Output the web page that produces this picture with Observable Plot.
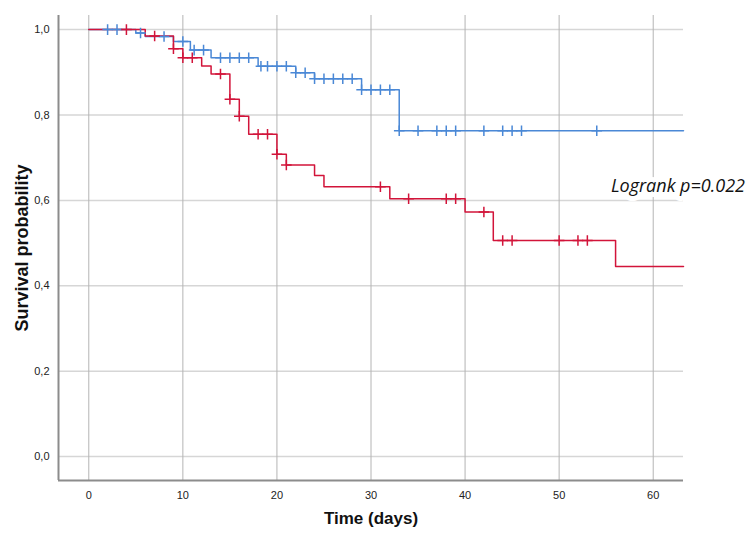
<!DOCTYPE html>
<html>
<head>
<meta charset="utf-8">
<script src="https://cdn.jsdelivr.net/npm/d3@7"></script>
<script src="https://cdn.jsdelivr.net/npm/@observablehq/plot@0.6"></script>
<style>
  html, body { margin: 0; padding: 0; background: #fff; }
  #chart { width: 749px; height: 539px; }
  svg { overflow: visible; }
</style>
</head>
<body>
<div id="chart"></div>
<script>
// ---- data ----
const xTicks = [0, 10, 20, 30, 40, 50, 60];
const yTicks = [0, 0.2, 0.4, 0.6, 0.8, 1.0];
const yTickLabels = ["0,0", "0,2", "0,4", "0,6", "0,8", "1,0"];
const xDomain = [-3.22, 63.22];
const yDomain = [-0.056, 1.033];
const followUpEnd = 63.22;

// Blue group: event times and survival after each event
const blueTimes = [0, 5, 6, 9, 10.8, 13, 18, 22, 24, 29, 33];
const blueSurv  = [1, 0.992, 0.984, 0.972, 0.952, 0.934, 0.914, 0.899, 0.885, 0.859, 0.763];
const blueCensor = [2, 3, 5.5, 8, 10, 11.2, 12.2, 14, 15, 16, 17, 18.3, 19, 20, 21, 22, 23, 24, 25, 26, 27, 28,
                    29, 30, 31, 32, 33, 35, 37, 38, 39, 42, 44, 45, 46, 54];

// Red group
const redTimes = [0, 6, 9, 10, 12, 13, 15, 16, 17, 20, 21, 24, 25, 32, 40, 43, 56];
const redSurv  = [1, 0.985, 0.955, 0.934, 0.915, 0.896, 0.837, 0.797, 0.755, 0.708, 0.683, 0.658, 0.632, 0.604, 0.573, 0.506, 0.445];
const redCensor = [4, 7, 9, 10, 11, 14, 15, 16, 18, 19, 20, 21, 31, 34, 38, 39, 42, 44, 45, 50, 52, 53];

const annotation = "Logrank p=0.022";
const annotationAt = {t: 55.5, s: 0.634};
const xTitle = "Time (days)";
const yTitle = "Survival probability";

const blueColor = "#4a88d6";
const redColor = "#d2143a";

// ---- build tables ----
function curve(times, surv) {
  const rows = times.map((t, i) => ({t, s: surv[i]}));
  rows.push({t: followUpEnd, s: surv[surv.length - 1]});
  return rows;
}
function survAt(times, surv, t) {
  let s = surv[0];
  for (let i = 0; i < times.length; i++) if (times[i] <= t) s = surv[i];
  return s;
}
const blueLine = curve(blueTimes, blueSurv);
const redLine = curve(redTimes, redSurv);
const blueMarks = blueCensor.map(t => ({t, s: survAt(blueTimes, blueSurv, t)}));
const redMarks = redCensor.map(t => ({t, s: survAt(redTimes, redSurv, t)}));

const font = "'Liberation Sans', Arial, sans-serif";

const chart = Plot.plot({
  width: 749,
  height: 539,
  marginLeft: 58,
  marginRight: 66,
  marginTop: 15,
  marginBottom: 59,
  style: {fontFamily: font, fontSize: "11px", color: "#222", background: "#fff"},
  x: {domain: xDomain, ticks: xTicks, tickSize: 0, tickPadding: 11, label: null, tickFormat: d => String(d)},
  y: {domain: yDomain, ticks: yTicks, tickSize: 0, tickPadding: 9, label: null,
      tickFormat: d => yTickLabels[yTicks.findIndex(v => Math.abs(v - d) < 1e-9)]},
  marks: [
    Plot.ruleY(yTicks, {stroke: "#d6d6d6", strokeWidth: 1.5}),
    Plot.ruleX(xTicks, {stroke: "#b4b4b4", strokeWidth: 1}),
    Plot.ruleX([xDomain[0]], {stroke: "#8c8c8c", strokeWidth: 2}),
    Plot.ruleY([yDomain[0]], {stroke: "#8c8c8c", strokeWidth: 2}),
    Plot.line(blueLine, {x: "t", y: "s", curve: "step-after", stroke: blueColor, strokeWidth: 1.5}),
    Plot.line(redLine, {x: "t", y: "s", curve: "step-after", stroke: redColor, strokeWidth: 1.5}),
    Plot.dot(blueMarks, {x: "t", y: "s", symbol: "plus", r: 3.5, stroke: blueColor, strokeWidth: 1.5}),
    Plot.dot(redMarks, {x: "t", y: "s", symbol: "plus", r: 3.5, stroke: redColor, strokeWidth: 1.5}),
    Plot.text([annotation], {x: () => annotationAt.t, y: () => annotationAt.s, text: d => d, textAnchor: "start",
      fontFamily: "'Open Sans', sans-serif", fontStyle: "italic", fontSize: 18, fill: "#111",
      stroke: "white", strokeWidth: 10}),
    Plot.text([xTitle], {frameAnchor: "bottom", dx: 0, dy: 43, text: d => d, textAnchor: "middle",
      fontWeight: "bold", fontSize: 17, fill: "#111"}),
    Plot.text([yTitle], {frameAnchor: "left", dx: -36, dy: 0, rotate: -90, text: d => d, textAnchor: "middle",
      fontWeight: "bold", fontSize: 18, fill: "#111"})
  ]
});
document.getElementById("chart").appendChild(chart);
</script>
</body>
</html>
